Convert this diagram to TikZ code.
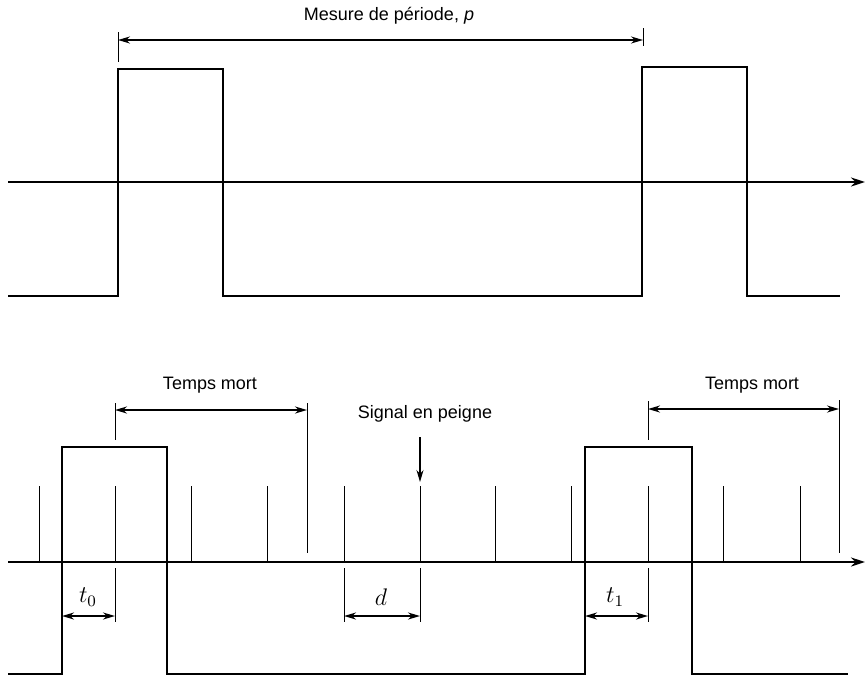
\documentclass[tikz,border=0pt]{standalone}
\usepackage{fontspec}
\setmainfont{Liberation Sans}
\usetikzlibrary{arrows.meta}
\begin{document}
\begin{tikzpicture}[x=0.5pt,y=-0.5pt,
  sig/.style={line width=1.1pt, line join=miter},
  axisline/.style={line width=1.1pt,-{Stealth[length=7pt,width=4.5pt]}},
  thinline/.style={line width=0.5pt},
  dimline/.style={line width=0.9pt,{Stealth[length=6pt,width=3.5pt]}-{Stealth[length=6pt,width=3.5pt]}},
  downarrow/.style={line width=0.6pt,-{Stealth[length=6pt,width=3.5pt]}},
  lab/.style={font=\fontsize{9}{11}\selectfont, inner sep=0pt},
  mlab/.style={font=\fontsize{12}{14}\selectfont, inner sep=0pt}]
\useasboundingbox (0,0) rectangle (865,680);

% ---------- top diagram ----------
\coordinate (ta0) at (8,182);
\coordinate (ta1) at (865,182);
\draw[axisline] (ta0) -- (ta1);
\draw[sig] (8,296) -- (118,296) -- (118,69) -- (223,69) -- (223,296)
  -- (642,296) -- (642,67) -- (747,67) -- (747,296) -- (840,296);
\coordinate (pA) at (118,40);
\coordinate (pB) at (643,40);
\draw[thinline] (118,32) -- (118,62);
\draw[thinline] (643,28) -- (643,46);
\draw[dimline] (pA) -- (pB);
\node[lab] (ptxt) at (389,16) {Mesure de période, \textit{p}};

% ---------- bottom diagram ----------
\coordinate (ba0) at (8,562);
\coordinate (ba1) at (865,562);
\draw[axisline] (ba0) -- (ba1);
\draw[sig] (8,674) -- (62,674) -- (62,447) -- (167,447) -- (167,674)
  -- (585,674) -- (585,447) -- (692,447) -- (692,674) -- (848,674);
\foreach \x in {39,115,191,267,344,420,495,571,648,723,800}
  \draw[thinline] (\x,486) -- (\x,562);

% Temps mort 1
\draw[thinline] (115,403) -- (115,440);
\draw[thinline] (307,403) -- (307,553);
\coordinate (m1a) at (115,410);
\coordinate (m1b) at (307,410);
\draw[dimline] (m1a) -- (m1b);
\node[lab] (tm1) at (210,385) {Temps mort};

% Temps mort 2
\draw[thinline] (648,401) -- (648,440);
\draw[thinline] (839,400) -- (839,553);
\coordinate (m2a) at (648,409);
\coordinate (m2b) at (839,409);
\draw[dimline] (m2a) -- (m2b);
\node[lab] (tm2) at (752,385) {Temps mort};

% Signal en peigne
\node[lab] (sp) at (425,414) {Signal en peigne};
\coordinate (spa) at (420,437);
\coordinate (spb) at (420,482);
\draw[downarrow] (spa) -- (spb);

% t0
\draw[thinline] (115,568) -- (115,622);
\coordinate (t0a) at (62,616);
\coordinate (t0b) at (115,616);
\draw[dimline] (t0a) -- (t0b);
\node[mlab] (t0) at (88,597) {$t_0$};

% d
\draw[thinline] (344,568) -- (344,622);
\draw[thinline] (420,568) -- (420,622);
\coordinate (da) at (344,616);
\coordinate (db) at (420,616);
\draw[dimline] (da) -- (db);
\node[mlab] (dl) at (381,597) {$d$};

% t1
\draw[thinline] (648,568) -- (648,622);
\coordinate (t1a) at (585,616);
\coordinate (t1b) at (648,616);
\draw[dimline] (t1a) -- (t1b);
\node[mlab] (t1) at (615,597) {$t_1$};
\end{tikzpicture}
\end{document}
